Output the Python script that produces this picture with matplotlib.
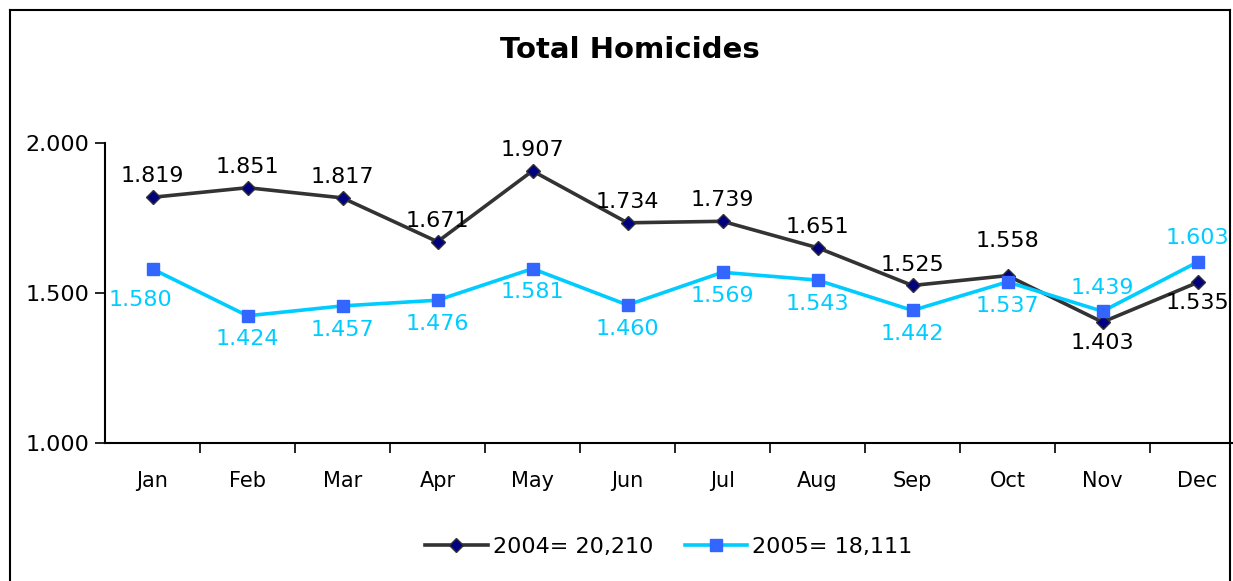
import matplotlib.pyplot as plt
from matplotlib.lines import Line2D
from matplotlib.ticker import FixedLocator, FuncFormatter

months = ["Jan", "Feb", "Mar", "Apr", "May", "Jun", "Jul", "Aug", "Sep", "Oct", "Nov", "Dec"]
homicides_2004 = [1.819, 1.851, 1.817, 1.671, 1.907, 1.734, 1.739, 1.651, 1.525, 1.558, 1.403, 1.535]
homicides_2005 = [1.580, 1.424, 1.457, 1.476, 1.581, 1.460, 1.569, 1.543, 1.442, 1.537, 1.439, 1.603]
label_2004 = "2004= 20,210"
label_2005 = "2005= 18,111"

W, H = 1233, 581
fig = plt.figure(figsize=(W / 100, H / 100), dpi=100)

# axes placed in pixel terms (plot area runs past the right edge like the original)
ax = fig.add_axes([105 / W, (H - 443) / H, 1140 / W, 300 / H])

x = list(range(len(months)))
ax.plot(x, homicides_2004, color="#333333", lw=2.6, marker="D", ms=7,
        mfc="#000080", mec="#333333", mew=1, label=label_2004, zorder=3)
ax.plot(x, homicides_2005, color="#00CCFF", lw=2.6, marker="s", ms=8.5,
        mfc="#3366FF", mec="#3366FF", label=label_2005, zorder=3)

# data labels: black above, cyan below, swapped at the end where lines cross
for i, v in enumerate(homicides_2004):
    below = months[i] in ("Nov", "Dec")
    dy = -15 if below else 15
    if months[i] == "Oct":
        dy = 25
    ax.annotate(f"{v:.3f}", (i, v), xytext=(0, dy), textcoords="offset points",
                ha="center", va="center", fontsize=16, color="black", zorder=4)
for i, v in enumerate(homicides_2005):
    above = months[i] in ("Nov", "Dec")
    dy = 17 if above else -17
    dx = -9 if i == 0 else 0
    if i == 0:
        dy = -22
    ax.annotate(f"{v:.3f}", (i, v), xytext=(dx, dy), textcoords="offset points",
                ha="center", va="center", fontsize=16, color="#00CCFF", zorder=4)

ax.set_xlim(-0.5, 11.5)
ax.set_ylim(1.0, 2.0)
ax.set_yticks([1.0, 1.5, 2.0])
ax.yaxis.set_major_formatter(FuncFormatter(lambda v, p: f"{v:.3f}"))
ax.set_xticks(x)
ax.set_xticklabels(months)
ax.xaxis.set_minor_locator(FixedLocator([k + 0.5 for k in range(12)]))
ax.tick_params(axis="x", which="major", length=0, labelsize=15, pad=20)
ax.tick_params(axis="x", which="minor", length=7, width=1.2, color="black")
ax.tick_params(axis="y", length=7, width=1.2, labelsize=16, pad=4)
for s in ("top", "right"):
    ax.spines[s].set_visible(False)
for s in ("left", "bottom"):
    ax.spines[s].set_linewidth(1.5)

fig.text(630 / W, 1 - 50 / H, "Total Homicides", ha="center", va="center",
         fontsize=21, fontweight="bold")

ax.legend(loc="center", bbox_to_anchor=(669 / W, 1 - 547 / H), bbox_transform=fig.transFigure,
          ncol=2, frameon=False, fontsize=16, handlelength=2.8, columnspacing=1.4,
          handletextpad=0.25)

# outer chart frame
frame_kw = dict(color="black", lw=1.5, transform=fig.transFigure)
fig.add_artist(Line2D([10 / W, 10 / W], [0, 1 - 10 / H], **frame_kw))
fig.add_artist(Line2D([10 / W, 1230 / W], [1 - 10 / H, 1 - 10 / H], **frame_kw))
fig.add_artist(Line2D([1230 / W, 1230 / W], [0, 1 - 10 / H], **frame_kw))

fig.savefig("out.png", dpi=100)
